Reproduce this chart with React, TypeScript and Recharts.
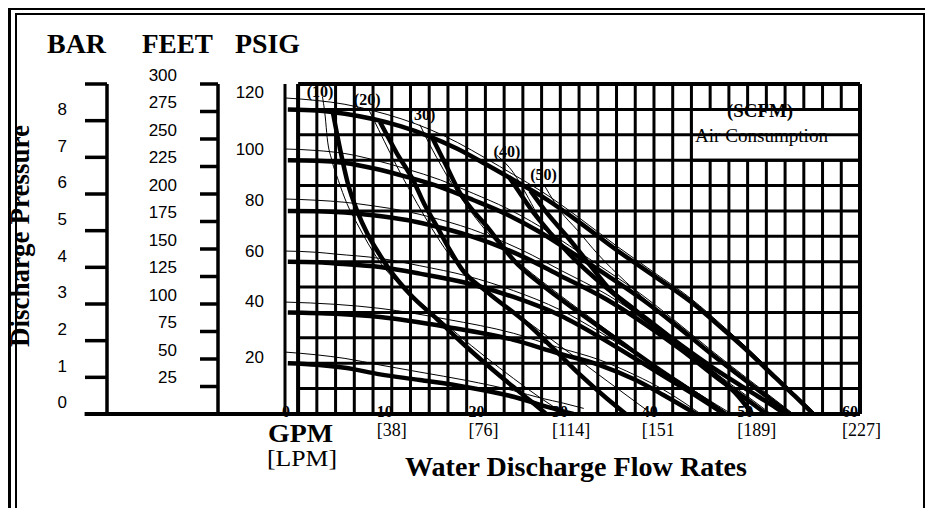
import React from 'react';
import {
  LineChart,
  Line,
  XAxis,
  YAxis,
  CartesianGrid,
  ReferenceLine,
  ReferenceDot,
  ReferenceArea,
} from 'recharts';

const SERIF = '"Liberation Serif", "Times New Roman", Times, serif';
const SANS = '"Liberation Sans", Arial, Helvetica, sans-serif';

// ---------- tick labels ----------
const gpmGridTicks = [0, 2, 4, 6, 8, 10, 12, 14, 16, 18, 20, 22, 24, 26, 28, 30, 32, 34, 36, 38, 40, 42, 44, 46, 48, 50, 52, 54, 56, 58, 60];
const gpmLabels = [0, 10, 20, 30, 40, 50, 60];
const lpmLabels = ['', '[38]', '[76]', '[114]', '[151', '[189]', '[227]'];
const psiGridTicks = [10, 20, 30, 40, 50, 60, 70, 80, 90, 100, 110, 120];
const psiLabels = [20, 40, 60, 80, 100, 120];
const barTicks = [0, 1, 2, 3, 4, 5, 6, 7, 8, 9];
const feetTicks = [0, 25, 50, 75, 100, 125, 150, 175, 200, 225, 250, 275, 300];

// ---------- performance curves at inlet air pressure (psi) : [GPM, PSIG] ----------
const P120 = [[-1.1, 120], [2, 119.6], [5, 118.3], [8, 116.2], [11, 113.3], [14, 109.4], [17, 104.5], [20, 98.5], [23, 92.2], [26, 85.8], [30, 75.6], [34, 64.6], [38, 54.4], [42, 44], [45.5, 33], [48, 24.8], [51, 14.2], [53, 7.2], [55, 0]];
const P100 = [[-1.1, 100], [2, 99.8], [5, 98.9], [8, 96.8], [11.6, 93.4], [15.2, 89.4], [18.7, 84.3], [22.3, 78.6], [25.8, 71.7], [29, 64.2], [33, 54.6], [36.8, 45], [40, 36], [44, 24], [48, 12.6], [51, 4.2], [52.5, 0]];
const P80 = [[-1.1, 80], [2, 79.9], [5, 79.4], [8, 78.3], [11.6, 76.4], [14, 74.5], [16.2, 72.5], [18.5, 70], [20.5, 67.4], [24, 62], [28, 54.5], [33, 45], [37, 35.5], [41, 25], [45, 13.5], [48, 5.5], [50, 0]];
const P60 = [[-1.1, 60], [2, 59.8], [4, 59.3], [8.75, 57.9], [13, 55.3], [18, 51.6], [23, 46.1], [28, 38.8], [32.2, 30.3], [36, 21.8], [40, 12.8], [43, 6], [45.5, 0]];
const P40 = [[-1.1, 40], [4, 39.5], [8.75, 38.2], [15.9, 34.3], [23, 29.2], [27.7, 24], [32.2, 19.3], [36, 13.5], [39, 7.5], [42.5, 0]];
const P20 = [[-1.1, 20], [2, 19.4], [5, 18.2], [8.75, 15.6], [13, 13.4], [18, 10.6], [23, 6.8], [26.6, 2.8], [29.4, 0]];

// thin companion curves
const T120 = [[-1.4, 124.5], [2, 123.5], [5, 122], [8, 119.5], [11, 116.3], [14, 112.2], [17, 107], [20, 100.8], [23, 94.3], [26, 87.7], [30, 77.3], [34, 66.2], [38, 55.8], [42, 45.3], [45.5, 34.2], [48, 25.9], [51, 15.2], [53, 8.1], [55.3, 0]];
const T100 = [[-1.4, 104.4], [2, 103.8], [5, 102.6], [8, 100.2], [11.6, 96.5], [15.2, 92.2], [18.7, 86.9], [22.3, 81], [25.8, 73.9], [29, 66.2], [33, 56.4], [36.8, 46.7], [40, 37.5], [44, 25.4], [48, 13.9], [51, 5.4], [52.9, 0]];
const T80 = [[-1.4, 84.7], [2, 84.2], [5, 83.4], [8, 82], [11.6, 79.8], [14, 77.7], [16.2, 75.5], [18.5, 72.8], [20.5, 70], [24, 64.4], [28, 56.7], [33, 47], [37, 37.3], [41, 26.7], [45, 15], [48, 6.9], [50.5, 0]];
const T60 = [[-1.4, 64.2], [2, 63.7], [4, 63], [8.75, 61.3], [13, 58.4], [18, 54.4], [23, 48.6], [28, 41], [32.2, 32.3], [36, 23.6], [40, 14.5], [43, 7.5], [46, 0]];
const T40 = [[-1.4, 44.1], [4, 43.2], [8.75, 41.6], [15.9, 37.3], [23, 31.8], [27.7, 26.3], [32.2, 21.3], [36, 15.3], [39, 9.6], [43, 0]];
const T20 = [[-1.4, 24.4], [2, 23.3], [5, 21.9], [8.75, 19.3], [13, 16.5], [18, 13.2], [23, 9.2], [26, 6.2], [28.3, 4.3], [30.5, 2.2]];

// ---------- air consumption curves (SCFM) ----------
const A10 = [[3.7, 119], [4.5, 104], [5.3, 91], [6.3, 80], [7.4, 71], [8.4, 64.6], [9.8, 56.7], [12, 47], [14.8, 37.5], [18, 26.4], [20.5, 18.3], [23, 10.6], [25, 4.6], [26.5, 0]];
const A20 = [[8.75, 115], [10.5, 103], [12.3, 92], [13.5, 82.5], [14.8, 74], [16.2, 64.6], [17.5, 57], [20.2, 48], [24.4, 35.8], [27.2, 26], [30.1, 15.5], [33, 6], [35, 0]];
const A30 = [[14.3, 109], [15.8, 98], [17.3, 87], [18.7, 80], [20.2, 73.7], [21.6, 67], [23, 60.7], [26, 51], [30, 40], [34, 29.5], [38, 19], [42, 9], [45.6, 0]];
const A40 = [[22.5, 93.5], [23.5, 88], [25, 80], [27, 71], [29.5, 61], [32.5, 51], [36, 41], [40, 29.5], [44, 17], [47, 7], [48.5, 0]];
const A50 = [[24.8, 88], [26.5, 79.5], [28.7, 70], [31, 59.5], [33.3, 49], [36, 40.5], [40, 29.5], [44, 19], [48, 9.5], [51, 2.5], [52, 0]];

const TA10 = [[2.6, 125], [2.9, 117], [3.1, 109], [3.6, 100], [4.3, 92], [5.2, 83], [6.3, 75], [7.5, 67], [8.8, 59.5], [11, 50.5], [14, 41], [17, 31.5], [20, 22.5], [23, 14], [26, 6], [28.5, 0]];
const TA20 = [[7.6, 119.5], [8.6, 112], [9.8, 103], [11.2, 93], [12.7, 83], [14.3, 73], [16, 63.5], [18, 55], [21, 46], [25, 35], [29, 24], [33, 13], [36.5, 3.5], [37.8, 0]];
const TA30 = [[13, 114], [14, 106.5], [14.8, 101], [16.2, 92], [18, 82], [20, 72.5], [23, 61.5], [27, 49.5], [31, 38.5], [35, 27.5], [39, 17], [43, 7.5], [46.3, 0]];
const TA40 = [[21.2, 102], [23, 95], [24.3, 87], [25.5, 79], [27.5, 69], [30, 59], [33, 49.5], [37, 38], [41, 26], [45, 14.5], [48.5, 4.5], [50, 0]];
const TA50 = [[26.4, 89.4], [28, 80], [29.8, 72.5], [32, 63], [35, 52], [38, 42], [42, 29.5], [46, 17.5], [50, 6.5], [52.3, 0]];

const airLabelText = ['(10)', '(20)', '(30)', '(40)', '(50)'];
const airLabelGpm = [2.35, 7.37, 13.24, 22.3, 26.2];
const airLabelPsi = [127.3, 124.1, 118.2, 103.6, 94.6];

const thickSeries = [P120, P100, P80, P60, P40, P20, A10, A20, A30, A40, A50];
const thinSeries = [T120, T100, T80, T60, T40, T20, TA10, TA20, TA30, TA40, TA50];

const toPts = (a: number[][]) => a.map(([x, y]) => ({ x, y }));

// label nudges (style only)
const X_NUDGE = [-16, -15, -17, -27, -31, -29, -18];

const XTick = (props: any) => {
  const { x, y, payload } = props;
  const i = gpmLabels.indexOf(payload.value);
  if (i < 0) return <g />;
  const lx = x + X_NUDGE[i];
  return (
    <g>
      <text x={lx} y={y + 3} fontFamily={SERIF} fontWeight="bold" fontSize={16} fill="#000">
        {gpmLabels[i]}
      </text>
      {lpmLabels[i] ? (
        <text x={lx} y={y + 22} fontFamily={SERIF} fontSize={18} fill="#000">
          {lpmLabels[i]}
        </text>
      ) : null}
    </g>
  );
};

const PsiTick = (props: any) => {
  const { x, y, payload } = props;
  const v = payload.value;
  const dy = v === 120 ? -17 : v === 20 ? -6 : -11;
  return (
    <text x={x} y={y + dy} dy="0.35em" textAnchor="end" fontFamily={SANS} fontSize={17} fill="#000">
      {v}
    </text>
  );
};

const BarTick = (props: any) => {
  const { x, y, payload } = props;
  const v = payload.value;
  if (v === 9) return <g />;
  return (
    <text x={x} y={y - 11.5} dy="0.35em" textAnchor="end" fontFamily={SANS} fontSize={17} fill="#000">
      {v}
    </text>
  );
};

const FeetTick = (props: any) => {
  const { x, y, payload } = props;
  const v = payload.value;
  if (v === 0) return <g />;
  return (
    <text x={x} y={y - 9} dy="0.35em" textAnchor="end" fontFamily={SANS} fontSize={17} fill="#000">
      {v}
    </text>
  );
};

// axis ids: y1 = PSIG (next to the plot), y2 = FEET, y3 = BAR (outermost)
const PSI = 'y1';
const FEET = 'y2';
const BAR = 'y3';

export default function App() {
  return (
    <div style={{ position: 'relative', width: 918, height: 500 }}>
      <div
        style={{
          position: 'absolute', left: 0, top: -1, width: 917, height: 515,
          borderLeft: '3px solid #000', borderTop: '3px solid #000', boxSizing: 'border-box',
        }}
      />
      <div
        style={{
          position: 'absolute', left: 7, top: 5, width: 911, height: 507,
          borderStyle: 'solid', borderColor: '#000', borderWidth: '2px 3px 3px 2px', boxSizing: 'border-box',
        }}
      />
      <div style={{ position: 'absolute', left: 0, top: 0 }}>
        <LineChart width={918} height={500} margin={{ top: 76, right: 66, bottom: 54, left: 10 }}>
          <XAxis
            xAxisId="q" type="number" dataKey="x" domain={[-1.4, 60]} ticks={gpmGridTicks}
            interval={0} tick={XTick} tickLine={false} axisLine={false} tickSize={0} tickMargin={0} height={40}
          />
          <YAxis
            yAxisId={BAR} orientation="left" type="number" domain={[0, 9]} ticks={barTicks} allowDataOverflow
            width={89} interval={0} tickSize={22} tickMargin={18} tick={BarTick}
            tickLine={{ stroke: '#000', strokeWidth: 3.5 }} axisLine={{ stroke: '#000', strokeWidth: 3.5 }}
          />
          <YAxis
            yAxisId={FEET} orientation="left" type="number" domain={[0, 300]} ticks={feetTicks} allowDataOverflow
            width={111} interval={0} tickSize={18} tickMargin={23} tick={FeetTick}
            tickLine={{ stroke: '#000', strokeWidth: 3.5 }} axisLine={{ stroke: '#000', strokeWidth: 3.5 }}
          />
          <YAxis
            yAxisId={PSI} orientation="left" type="number" domain={[0, 130]} ticks={psiLabels}
            width={67} interval={0} tickSize={0} tickMargin={21} tick={PsiTick} tickLine={false} axisLine={false}
          />
          <CartesianGrid xAxisId="q" yAxisId={PSI} horizontal={false} stroke="#000" strokeWidth={3} />
          {psiGridTicks.map((v) => (
            <ReferenceLine
              key={'hg' + v} xAxisId="q" yAxisId={PSI}
              segment={[{ x: 0, y: v }, { x: 60, y: v }]}
              stroke="#000" strokeWidth={3}
            />
          ))}
          <ReferenceArea xAxisId="q" yAxisId={PSI} x1={42} x2={60} y1={100} y2={120} fill="#fff" fillOpacity={1} stroke="#000" strokeWidth={3} />
          <ReferenceLine xAxisId="q" yAxisId={PSI} segment={[{ x: 0, y: 130 }, { x: 60, y: 130 }]} stroke="#000" strokeWidth={4} />
          <ReferenceLine xAxisId="q" yAxisId={PSI} segment={[{ x: 0, y: 0 }, { x: 0, y: 130 }]} stroke="#000" strokeWidth={4} />
          <ReferenceLine xAxisId="q" yAxisId={PSI} segment={[{ x: 60, y: 0 }, { x: 60, y: 130 }]} stroke="#000" strokeWidth={4} />
          <ReferenceLine
            xAxisId="q" yAxisId={PSI} ifOverflow="visible"
            segment={[{ x: -22.8, y: 0 }, { x: 60, y: 0 }]} stroke="#000" strokeWidth={4}
          />
          {thinSeries.map((s, i) => (
            <Line
              key={'t' + i} xAxisId="q" yAxisId={PSI} data={toPts(s)} dataKey="y" type="monotone"
              stroke="#000" strokeWidth={1} dot={false} activeDot={false} isAnimationActive={false} legendType="none"
            />
          ))}
          {thickSeries.map((s, i) => (
            <Line
              key={'k' + i} xAxisId="q" yAxisId={PSI} data={toPts(s)} dataKey="y" type="monotone"
              stroke="#000" strokeWidth={4.5} dot={false} activeDot={false} isAnimationActive={false} legendType="none"
            />
          ))}
          {airLabelText.map((t, i) => (
            <ReferenceDot
              key={'al' + i} xAxisId="q" yAxisId={PSI} x={airLabelGpm[i]} y={airLabelPsi[i]} r={0}
              fill="none" stroke="none" ifOverflow="visible"
              label={{ value: t, position: 'center', fill: '#000', fontSize: 16, fontWeight: 'bold', fontFamily: SERIF }}
            />
          ))}
        </LineChart>
      </div>
      <svg
        width={933} height={523}
        style={{ position: 'absolute', left: -8, top: -8, pointerEvents: 'none' }}
      >
        <g fontFamily={SERIF} fill="#000">
          <text x={47} y={53} fontSize={27} fontWeight="bold" textLength={59} lengthAdjust="spacingAndGlyphs">BAR</text>
          <text x={142} y={53} fontSize={27} fontWeight="bold" textLength={71} lengthAdjust="spacingAndGlyphs">FEET</text>
          <text x={235} y={53} fontSize={27} fontWeight="bold" textLength={65} lengthAdjust="spacingAndGlyphs">PSIG</text>
          <text x={268} y={442} fontSize={26} fontWeight="bold" textLength={65} lengthAdjust="spacingAndGlyphs">GPM</text>
          <text x={267} y={466} fontSize={23} textLength={70} lengthAdjust="spacingAndGlyphs">[LPM]</text>
          <text x={405} y={476} fontSize={27} fontWeight="bold" textLength={342} lengthAdjust="spacingAndGlyphs">
            Water Discharge Flow Rates
          </text>
          <text
            transform="translate(29,236) rotate(-90)" textAnchor="middle" fontSize={27} fontWeight="bold"
            textLength={222} lengthAdjust="spacingAndGlyphs"
          >
            Discharge Pressure
          </text>
          <text x={760} y={117} textAnchor="middle" fontSize={18} fontWeight="bold" textLength={66} lengthAdjust="spacingAndGlyphs">(SCFM)</text>
          <text x={695} y={142} fontSize={19} textLength={133} lengthAdjust="spacingAndGlyphs">Air Consumption</text>
        </g>
      </svg>
    </div>
  );
}
